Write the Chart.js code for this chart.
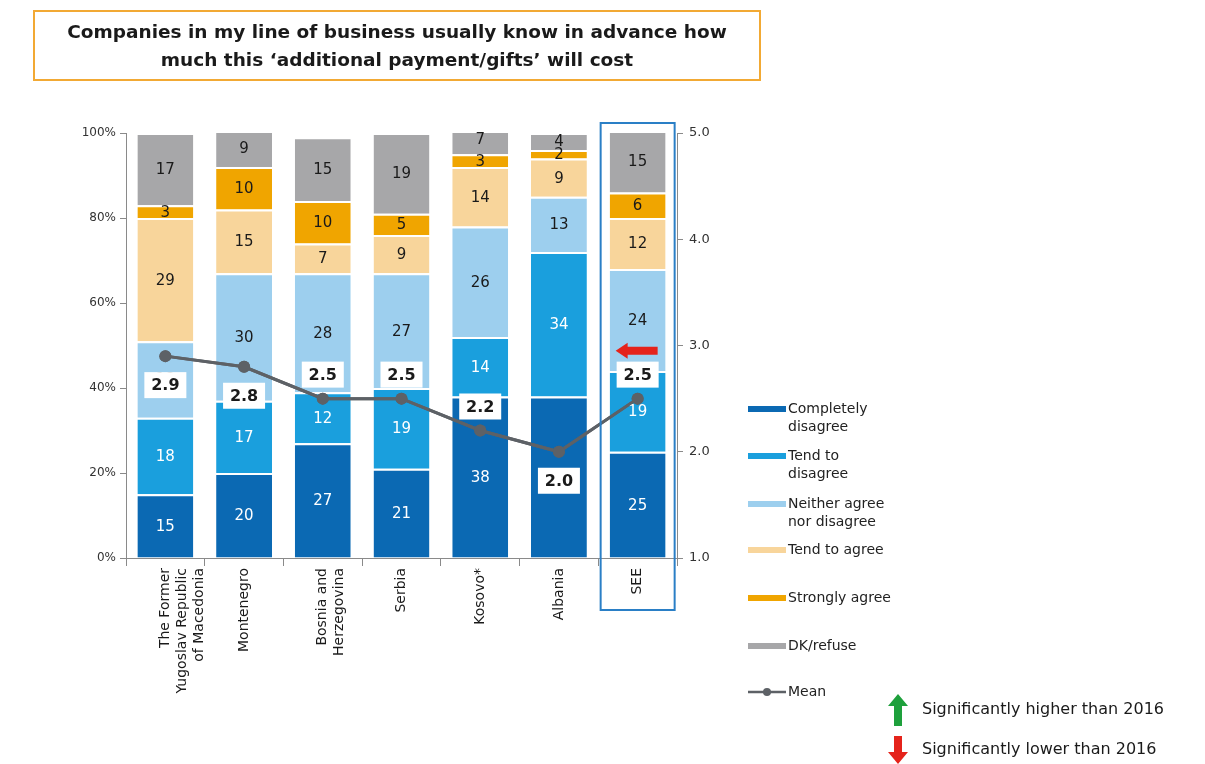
<!DOCTYPE html>
<html>
<head>
<meta charset="utf-8">
<script src="https://cdn.jsdelivr.net/npm/chart.js@4/dist/chart.umd.min.js"></script>
<style>
  html, body { margin: 0; padding: 0; background: #fff; }
  #wrap { position: relative; width: 1205px; height: 764px; }
  #title {
    position: absolute; left: 33px; top: 10px; width: 728px; height: 71px;
    border: 2px solid #f2a934; box-sizing: border-box;
    font: bold 18.5px 'DejaVu Sans', sans-serif; color: #1a1a1a;
    text-align: center; line-height: 28px; padding-top: 6px;
  }
  canvas { position: absolute; left: 0; top: 0; }
</style>
</head>
<body>
<div id="wrap">
  <canvas id="chart" width="1205" height="764"></canvas>
  <div id="title">Companies in my line of business usually know in advance how<br>much this ‘additional payment/gifts’ will cost</div>
</div>
<script>
(function () {
  'use strict';

  // --- Data ---
  var categories = [
    ['The Former', 'Yugoslav Republic', 'of Macedonia'],
    'Montenegro',
    ['Bosnia and', 'Herzegovina'],
    'Serbia',
    'Kosovo*',
    'Albania',
    'SEE'
  ];
  var completelyDisagree = [15, 20, 27, 21, 38, 38, 25];
  var tendToDisagree     = [18, 17, 12, 19, 14, 34, 19];
  var neither            = [18, 30, 28, 27, 26, 13, 24];
  var tendToAgree        = [29, 15, 7, 9, 14, 9, 12];
  var stronglyAgree      = [3, 10, 10, 5, 3, 2, 6];
  var dkRefuse           = [17, 9, 15, 19, 7, 4, 15];
  var mean               = [2.9, 2.8, 2.5, 2.5, 2.2, 2.0, 2.5];
  var meanLabelSide      = ['below', 'below', 'above', 'above', 'above', 'below', 'above'];
  var leftTicks  = [0, 20, 40, 60, 80, 100];
  var rightTicks = [1, 2, 3, 4, 5];
  var seriesNames = ['Completely disagree', 'Tend to disagree', 'Neither agree nor disagree',
                     'Tend to agree', 'Strongly agree', 'DK/refuse'];
  var legendLines = [['Completely', 'disagree'], ['Tend to', 'disagree'], ['Neither agree', 'nor disagree'],
                     ['Tend to agree'], ['Strongly agree'], ['DK/refuse']];

  // --- Colours ---
  var cDark = '#0b69b3';
  var cMid = '#1a9fdd';
  var cLight = '#9dcfee';
  var cPeach = '#f8d59b';
  var cOrange = '#f0a500';
  var cGrey = '#a7a7a9';
  var cMean = '#5d6166';
  var axisColor = '#8a8a8a';
  var font = "'DejaVu Sans', sans-serif";

  var barColors = [cDark, cMid, cLight, cPeach, cOrange, cGrey];
  var barData = [completelyDisagree, tendToDisagree, neither, tendToAgree, stronglyAgree, dkRefuse];
  var labelColors = ['#ffffff', '#ffffff', '#1a1a1a', '#1a1a1a', '#1a1a1a', '#1a1a1a'];

  var datasets = [{
    type: 'line',
    label: 'Mean',
    data: mean,
    yAxisID: 'y1',
    borderColor: cMean,
    backgroundColor: cMean,
    borderWidth: 3,
    pointRadius: 6,
    pointBackgroundColor: cMean,
    pointBorderWidth: 0,
    order: 0
  }];
  for (var i = 0; i < barData.length; i++) {
    datasets.push({
      type: 'bar',
      label: seriesNames[i],
      data: barData[i],
      yAxisID: 'y',
      backgroundColor: barColors[i],
      borderColor: '#ffffff',
      borderWidth: { top: 2, bottom: 0, left: 0, right: 0 },
      borderSkipped: false,
      categoryPercentage: 1,
      barPercentage: 0.71,
      order: 1
    });
  }

  // Labels, legend and decorations
  var decorPlugin = {
    id: 'decor',
    afterDatasetsDraw: function (chart) {
      var ctx = chart.ctx;
      var xs = chart.scales.x;
      var y1 = chart.scales.y1;
      var area = chart.chartArea;
      ctx.save();

      // segment labels
      ctx.font = '15px ' + font;
      ctx.textAlign = 'center';
      ctx.textBaseline = 'middle';
      for (var d = 1; d < chart.data.datasets.length; d++) {
        var meta = chart.getDatasetMeta(d);
        ctx.fillStyle = labelColors[d - 1];
        meta.data.forEach(function (bar, idx) {
          var v = chart.data.datasets[d].data[idx];
          var cy = (bar.y + bar.base) / 2;
          ctx.fillText(String(v), bar.x, cy + 1);
        });
      }

      // mean line drawn on top of labels
      var lineMeta = chart.getDatasetMeta(0);
      ctx.strokeStyle = cMean;
      ctx.lineWidth = 3;
      ctx.beginPath();
      lineMeta.data.forEach(function (p, idx) {
        if (idx === 0) ctx.moveTo(p.x, p.y); else ctx.lineTo(p.x, p.y);
      });
      ctx.stroke();
      ctx.fillStyle = cMean;
      lineMeta.data.forEach(function (p) {
        ctx.beginPath();
        ctx.arc(p.x, p.y, 6, 0, Math.PI * 2);
        ctx.fill();
      });

      // mean value boxes
      ctx.font = 'bold 16px ' + font;
      lineMeta.data.forEach(function (p, idx) {
        var txt = mean[idx].toFixed(1);
        var w = 42, h = 26;
        var cy = meanLabelSide[idx] === 'below' ? p.y + 29 : p.y - 24;
        ctx.fillStyle = '#ffffff';
        ctx.fillRect(p.x - w / 2, cy - h / 2, w, h);
        ctx.fillStyle = '#1a1a1a';
        ctx.fillText(txt, p.x, cy + 1);
      });

      // SEE highlight box
      var sx = xs.getPixelForValue(categories.length - 1);
      ctx.strokeStyle = '#2a7fc6';
      ctx.lineWidth = 2;
      ctx.strokeRect(sx - 37, area.top - 10, 74, area.bottom - area.top + 62);

      // red arrow on SEE (significantly lower)
      var ay = y1.getPixelForValue(2.95);
      ctx.fillStyle = '#e5231b';
      ctx.beginPath();
      ctx.moveTo(sx - 22, ay);
      ctx.lineTo(sx - 10, ay - 8);
      ctx.lineTo(sx - 10, ay - 4);
      ctx.lineTo(sx + 20, ay - 4);
      ctx.lineTo(sx + 20, ay + 4);
      ctx.lineTo(sx - 10, ay + 4);
      ctx.lineTo(sx - 10, ay + 8);
      ctx.closePath();
      ctx.fill();

      // legend
      var lx = 748, ly = [409, 456, 504, 550, 598, 646];
      ctx.textAlign = 'left';
      ctx.font = '14px ' + font;
      for (var k = 0; k < legendLines.length; k++) {
        ctx.fillStyle = barColors[k];
        ctx.fillRect(lx, ly[k] - 3, 38, 6);
        ctx.fillStyle = '#222';
        for (var m = 0; m < legendLines[k].length; m++) {
          ctx.fillText(legendLines[k][m], lx + 40, ly[k] + m * 18);
        }
      }
      ctx.strokeStyle = cMean;
      ctx.lineWidth = 2.5;
      ctx.beginPath();
      ctx.moveTo(lx, 692);
      ctx.lineTo(lx + 38, 692);
      ctx.stroke();
      ctx.fillStyle = cMean;
      ctx.beginPath();
      ctx.arc(lx + 19, 692, 4, 0, Math.PI * 2);
      ctx.fill();
      ctx.fillStyle = '#222';
      ctx.fillText('Mean', lx + 40, 692);

      // significance arrows legend
      ctx.fillStyle = '#1ea03c';
      ctx.beginPath();
      ctx.moveTo(898, 694);
      ctx.lineTo(908, 706);
      ctx.lineTo(902, 706);
      ctx.lineTo(902, 726);
      ctx.lineTo(894, 726);
      ctx.lineTo(894, 706);
      ctx.lineTo(888, 706);
      ctx.closePath();
      ctx.fill();
      ctx.fillStyle = '#e5231b';
      ctx.beginPath();
      ctx.moveTo(898, 764);
      ctx.lineTo(908, 752);
      ctx.lineTo(902, 752);
      ctx.lineTo(902, 736);
      ctx.lineTo(894, 736);
      ctx.lineTo(894, 752);
      ctx.lineTo(888, 752);
      ctx.closePath();
      ctx.fill();
      ctx.fillStyle = '#1a1a1a';
      ctx.font = '16px ' + font;
      ctx.fillText('Significantly higher than 2016', 922, 710);
      ctx.fillText('Significantly lower than 2016', 922, 750);

      ctx.restore();
    }
  };

  new Chart(document.getElementById('chart').getContext('2d'), {
    data: { labels: categories, datasets: datasets },
    options: {
      responsive: false,
      animation: false,
      layout: { padding: { left: 64, right: 483, top: 133, bottom: 50 } },
      scales: {
        x: {
          stacked: true,
          offset: true,
          grid: { offset: true, drawOnChartArea: false, color: axisColor, tickLength: 8 },
          border: { color: axisColor },
          ticks: {
            autoSkip: false, minRotation: 90, maxRotation: 90,
            color: '#1a1a1a', font: { family: font, size: 14 }, padding: 2
          },
          afterFit: function (s) { s.height = 156; }
        },
        y: {
          stacked: true,
          position: 'left',
          min: 0, max: 100,
          afterBuildTicks: function (s) { s.ticks = leftTicks.map(function (v) { return { value: v }; }); },
          grid: { drawOnChartArea: false, color: axisColor, tickLength: 6 },
          border: { color: axisColor },
          ticks: {
            color: '#333', font: { family: font, size: 12 }, padding: 4,
            callback: function (v) { return v + '%'; }
          },
          afterFit: function (s) { s.width = 62; }
        },
        y1: {
          position: 'right',
          min: 1, max: 5,
          afterBuildTicks: function (s) { s.ticks = rightTicks.map(function (v) { return { value: v }; }); },
          grid: { drawOnChartArea: false, color: axisColor, tickLength: 6 },
          border: { color: axisColor },
          ticks: {
            color: '#333', font: { family: font, size: 13 }, padding: 6,
            callback: function (v) { return v.toFixed(1); }
          },
          afterFit: function (s) { s.width = 45; }
        }
      },
      plugins: {
        legend: { display: false },
        tooltip: { enabled: false }
      }
    },
    plugins: [decorPlugin]
  });
})();
</script>
</body>
</html>
